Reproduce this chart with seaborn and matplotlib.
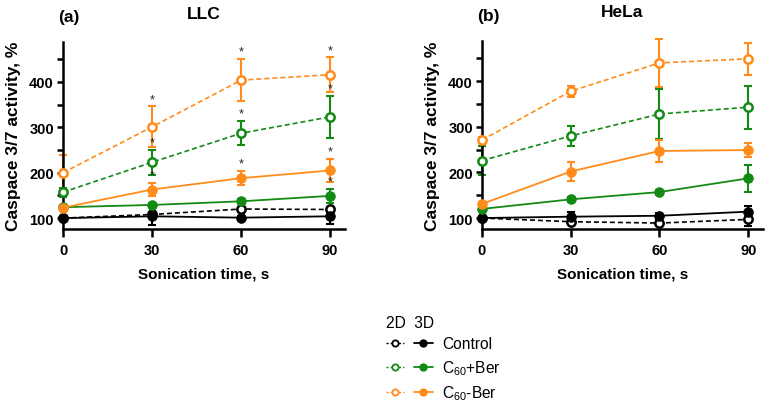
import numpy as np
import pandas as pd
import matplotlib
matplotlib.use("Agg")
import matplotlib.pyplot as plt
from matplotlib.lines import Line2D
from matplotlib.legend_handler import HandlerTuple
import seaborn as sns

# --- data (mean and SD, % of control) ---
times = [0, 30, 60, 90]
series_names = ["Control", "C$_{60}$+Ber", "C$_{60}$-Ber"]

llc_ctrl_2d = [100, 108, 120, 119]
llc_ctrl_2d_err = [0, 5, 4, 6]
llc_ctrl_3d = [100, 104, 101, 104]
llc_ctrl_3d_err = [0, 20, 4, 17]
llc_ber_2d = [157, 223, 287, 323]
llc_ber_2d_err = [10, 28, 27, 46]
llc_ber_3d = [124, 129, 137, 149]
llc_ber_3d_err = [3, 4, 4, 16]
llc_cb_2d = [200, 301, 404, 416]
llc_cb_2d_err = [40, 45, 46, 38]
llc_cb_3d = [123, 163, 188, 205]
llc_cb_3d_err = [4, 15, 16, 26]

hela_ctrl_2d = [100, 92, 89, 97]
hela_ctrl_2d_err = [0, 6, 5, 14]
hela_ctrl_3d = [100, 103, 105, 114]
hela_ctrl_3d_err = [0, 10, 6, 13]
hela_ber_2d = [226, 280, 328, 343]
hela_ber_2d_err = [32, 22, 55, 47]
hela_ber_3d = [120, 141, 157, 187]
hela_ber_3d_err = [5, 6, 5, 29]
hela_cb_2d = [271, 378, 440, 449]
hela_cb_2d_err = [6, 12, 53, 35]
hela_cb_3d = [131, 202, 247, 249]
hela_cb_3d_err = [4, 20, 25, 15]

# significance marks (LLC only): 1 = star above the point
llc_ber_2d_sig = [0, 1, 1, 1]
llc_ber_3d_sig = [0, 0, 0, 1]
llc_cb_2d_sig = [0, 1, 1, 1]
llc_cb_3d_sig = [0, 1, 1, 1]
no_sig = [0, 0, 0, 0]

BLACK = "#000000"
GREEN = "#138a13"
ORANGE = "#ff8c1a"

sns.set_theme(style="white")
plt.rcParams["font.family"] = ["Liberation Sans", "DejaVu Sans"]
plt.rcParams["mathtext.fontset"] = "custom"
plt.rcParams["mathtext.rm"] = "Liberation Sans"
plt.rcParams.update({
    "text.color": "black",
    "axes.labelcolor": "black",
    "xtick.color": "black",
    "ytick.color": "black",
})

fig = plt.figure(figsize=(7.7, 4.06), dpi=100)
axL = fig.add_axes([63 / 770, 1 - 230 / 406, 282 / 770, 187 / 406])
axR = fig.add_axes([482 / 770, 1 - 230 / 406, 281 / 770, 188 / 406])

def draw_series(ax, vals, err, sig, color, is_2d):
    df = pd.DataFrame({"time": times, "value": vals, "err": err})
    ls = (0, (3, 1.8)) if is_2d else "-"
    lw = 1.2 if is_2d else 1.3
    ax.errorbar(df["time"], df["value"], yerr=df["err"], fmt="none",
                ecolor=color, elinewidth=1.5, capsize=3.2, capthick=1.5,
                zorder=2, clip_on=False)
    if is_2d:
        sns.lineplot(data=df, x="time", y="value", ax=ax, color=color,
                     linestyle=ls, linewidth=lw, marker="o", markersize=6,
                     markerfacecolor="white", markeredgecolor=color,
                     markeredgewidth=1.8, clip_on=False, zorder=3)
    else:
        sns.lineplot(data=df, x="time", y="value", ax=ax, color=color,
                     linestyle=ls, linewidth=lw, marker="o", markersize=6.8,
                     markerfacecolor=color, markeredgecolor=color,
                     clip_on=False, zorder=3)
    for t, v, e, s in zip(times, vals, err, sig):
        if s:
            ax.text(t, v + e + 3, "*", ha="center", va="bottom",
                    fontsize=9, color="#222222", zorder=4)

panels = [
    (axL, "LLC", "(a)", [
        (llc_ctrl_2d, llc_ctrl_2d_err, no_sig, BLACK, True),
        (llc_ctrl_3d, llc_ctrl_3d_err, no_sig, BLACK, False),
        (llc_ber_3d, llc_ber_3d_err, llc_ber_3d_sig, GREEN, False),
        (llc_ber_2d, llc_ber_2d_err, llc_ber_2d_sig, GREEN, True),
        (llc_cb_3d, llc_cb_3d_err, llc_cb_3d_sig, ORANGE, False),
        (llc_cb_2d, llc_cb_2d_err, llc_cb_2d_sig, ORANGE, True),
    ]),
    (axR, "HeLa", "(b)", [
        (hela_ctrl_2d, hela_ctrl_2d_err, no_sig, BLACK, True),
        (hela_ctrl_3d, hela_ctrl_3d_err, no_sig, BLACK, False),
        (hela_ber_3d, hela_ber_3d_err, no_sig, GREEN, False),
        (hela_ber_2d, hela_ber_2d_err, no_sig, GREEN, True),
        (hela_cb_3d, hela_cb_3d_err, no_sig, ORANGE, False),
        (hela_cb_2d, hela_cb_2d_err, no_sig, ORANGE, True),
    ]),
]

for ax, title, tag, series in panels:
    for vals, err, sig, color, is_2d in series:
        draw_series(ax, vals, err, sig, color, is_2d)
    ax.set_xlim(0, 95)
    ax.set_ylim(76, 488)
    ax.set_xticks(times)
    ax.set_yticks([100, 200, 300, 400])
    ax.set_yticks([150, 250, 350, 450], minor=True)
    sns.despine(ax=ax)
    for sp in ["left", "bottom"]:
        ax.spines[sp].set_linewidth(1.8)
        ax.spines[sp].set_color("black")
    ax.tick_params(axis="x", which="major", direction="out", length=6,
                   width=1.8, labelsize=10.5, pad=4, bottom=True)
    ax.tick_params(axis="y", which="both", direction="out", length=4.5,
                   width=1.8, labelsize=10.5, pad=2, left=True)
    for lab in ax.get_xticklabels() + ax.get_yticklabels():
        lab.set_fontweight("bold")
    ax.set_xlabel("Sonication time, s", fontsize=11, fontweight="bold",
                  labelpad=7)
    ax.set_ylabel("Caspace 3/7 activity, %", fontsize=12.5,
                  fontweight="bold", labelpad=6)
    ax.text(0.5, 1.155, title, transform=ax.transAxes, fontsize=12.5,
            fontweight="bold", ha="center", va="center")
    ax.text(-0.018, 1.134, tag, transform=ax.transAxes, fontsize=12.5,
            fontweight="bold", ha="left", va="center")
    ax.grid(False)
    if ax.get_legend() is not None:
        ax.get_legend().remove()

# legend: 2D (open, dotted) and 3D (filled, solid) per treatment
colors = [BLACK, GREEN, ORANGE]
handles = []
for c in colors:
    h2 = Line2D([], [], color=c, linestyle=(0, (1.5, 1.5)), linewidth=1.0,
                marker="o", markersize=4.5, markerfacecolor="white",
                markeredgecolor=c, markeredgewidth=1.3)
    h3 = Line2D([], [], color=c, linestyle="-", linewidth=1.3, marker="o",
                markersize=5, markerfacecolor=c, markeredgecolor=c)
    handles.append((h2, h3))
leg = fig.legend(handles, series_names, title="2D  3D",
                 handler_map={tuple: HandlerTuple(ndivide=None, pad=0.65)},
                 loc="upper left", bbox_to_anchor=(375 / 770, 1 - 305 / 406),
                 frameon=False, fontsize=11.2, title_fontsize=11.2,
                 handlelength=3.0, handletextpad=0.6, labelspacing=0.42,
                 alignment="left", borderpad=0.2)

fig.savefig("out.png", dpi=100)
